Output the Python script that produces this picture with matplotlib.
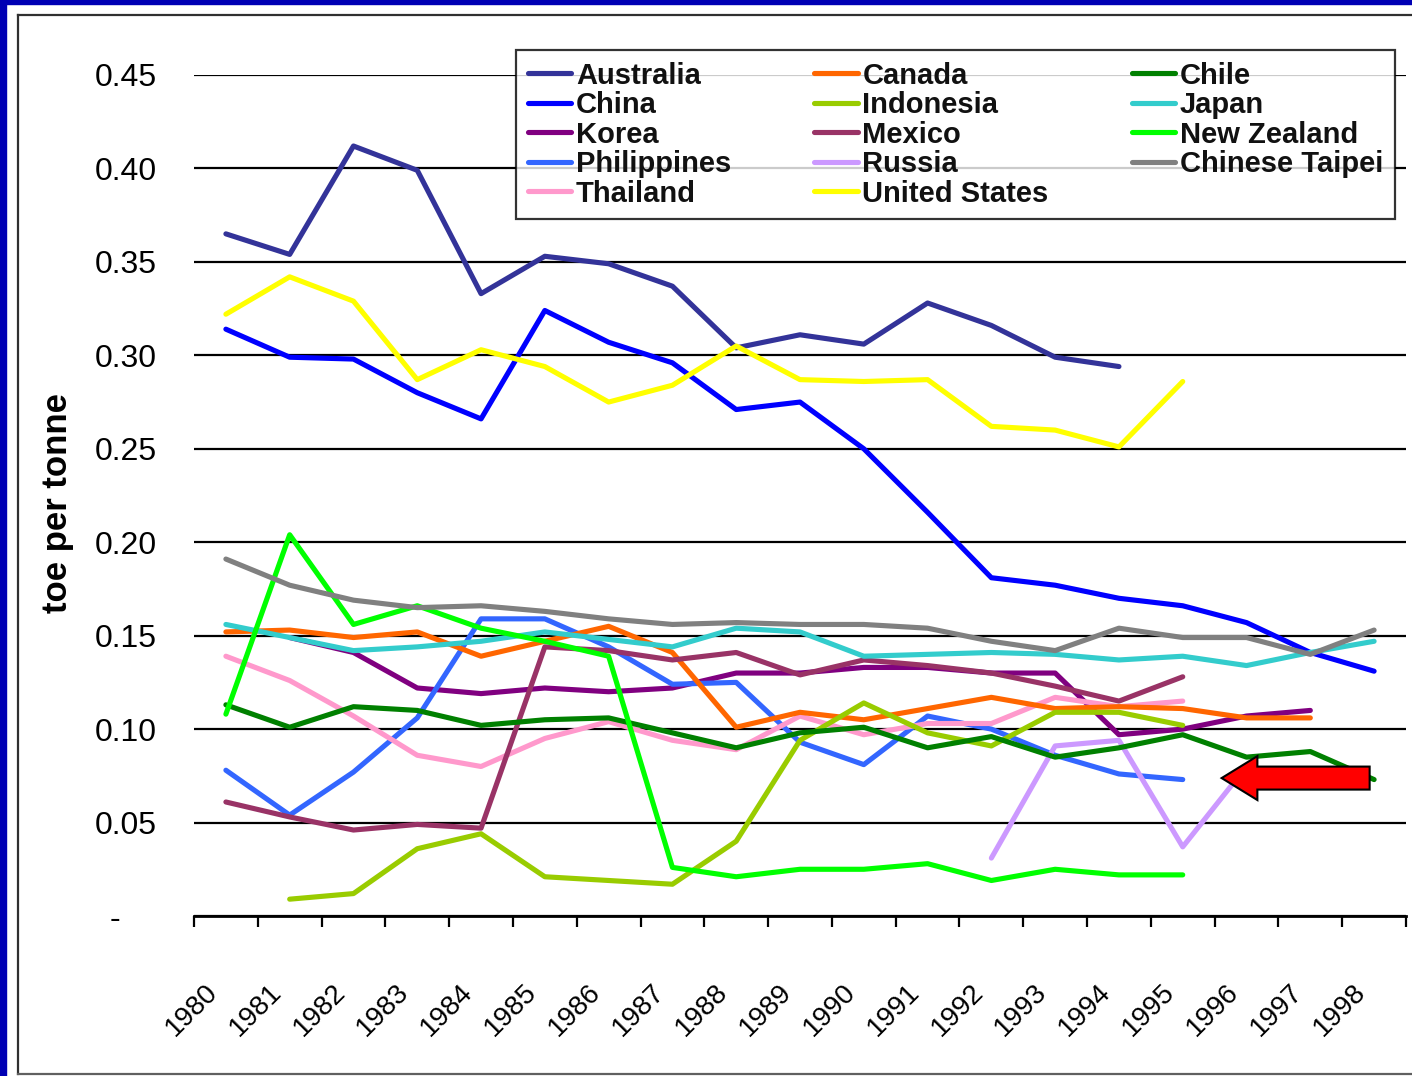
import numpy as np
import matplotlib
matplotlib.use("Agg")
import matplotlib.pyplot as plt
from matplotlib.patches import Rectangle, FancyArrow
from matplotlib.lines import Line2D
from matplotlib.transforms import ScaledTranslation

nan = np.nan
years = [str(y) for y in range(1980, 1999)]

australia = [0.365, 0.354, 0.412, 0.399, 0.333, 0.353, 0.349, 0.337, 0.304, 0.311, 0.306, 0.328, 0.316, 0.299, 0.294, nan, nan, nan, nan]
canada = [0.152, 0.153, 0.149, 0.152, 0.139, 0.147, 0.155, 0.141, 0.101, 0.109, 0.105, 0.111, 0.117, 0.111, 0.112, 0.111, 0.106, 0.106, nan]
chile = [0.113, 0.101, 0.112, 0.110, 0.102, 0.105, 0.106, 0.098, 0.090, 0.098, 0.101, 0.090, 0.096, 0.085, 0.090, 0.097, 0.085, 0.088, 0.073]
china = [0.314, 0.299, 0.298, 0.280, 0.266, 0.324, 0.307, 0.296, 0.271, 0.275, 0.250, 0.216, 0.181, 0.177, 0.170, 0.166, 0.157, 0.141, 0.131]
indonesia = [nan, 0.009, 0.012, 0.036, 0.044, 0.021, 0.019, 0.017, 0.040, 0.094, 0.114, 0.098, 0.091, 0.109, 0.109, 0.102, nan, nan, nan]
japan = [0.156, 0.149, 0.142, 0.144, 0.147, 0.152, 0.148, 0.144, 0.154, 0.152, 0.139, 0.140, 0.141, 0.140, 0.137, 0.139, 0.134, 0.141, 0.147]
korea = [nan, 0.149, 0.141, 0.122, 0.119, 0.122, 0.120, 0.122, 0.130, 0.130, 0.133, 0.133, 0.130, 0.130, 0.097, 0.100, 0.107, 0.110, nan]
mexico = [0.061, 0.053, 0.046, 0.049, 0.047, 0.144, 0.142, 0.137, 0.141, 0.129, 0.137, 0.134, 0.130, 0.123, 0.115, 0.128, nan, nan, nan]
new_zealand = [0.108, 0.204, 0.156, 0.166, 0.154, 0.147, 0.139, 0.026, 0.021, 0.025, 0.025, 0.028, 0.019, 0.025, 0.022, 0.022, nan, nan, nan]
philippines = [0.078, 0.054, 0.077, 0.106, 0.159, 0.159, 0.144, 0.124, 0.125, 0.093, 0.081, 0.107, 0.100, 0.086, 0.076, 0.073, nan, nan, nan]
russia = [nan, nan, nan, nan, nan, nan, nan, nan, nan, nan, nan, nan, 0.031, 0.091, 0.094, 0.037, 0.080, nan, nan]
chinese_taipei = [0.191, 0.177, 0.169, 0.165, 0.166, 0.163, 0.159, 0.156, 0.157, 0.156, 0.156, 0.154, 0.147, 0.142, 0.154, 0.149, 0.149, 0.140, 0.153]
thailand = [0.139, 0.126, 0.107, 0.086, 0.080, 0.095, 0.104, 0.094, 0.089, 0.107, 0.097, 0.103, 0.103, 0.117, 0.112, 0.115, nan, nan, nan]
united_states = [0.322, 0.342, 0.329, 0.287, 0.303, 0.294, 0.275, 0.284, 0.305, 0.287, 0.286, 0.287, 0.262, 0.260, 0.251, 0.286, nan, nan, nan]

series_names = ["Australia", "China", "Korea", "Philippines", "Thailand",
                "Canada", "Indonesia", "Mexico", "Russia", "United States",
                "Chile", "Japan", "New Zealand", "Chinese Taipei"]
series_values = [australia, china, korea, philippines, thailand,
                 canada, indonesia, mexico, russia, united_states,
                 chile, japan, new_zealand, chinese_taipei]
series_colors = ["#333399", "#0000FF", "#800080", "#3366FF", "#FF99CC",
                 "#FF6600", "#99CC00", "#993366", "#CC99FF", "#FFFF00",
                 "#008000", "#33CCCC", "#00FF00", "#808080"]

y_ticks = [0, 0.05, 0.10, 0.15, 0.20, 0.25, 0.30, 0.35, 0.40, 0.45]
y_tick_labels = ["-    ", "0.05", "0.10", "0.15", "0.20", "0.25", "0.30", "0.35", "0.40", "0.45"]

plt.rcParams['font.family'] = ['Liberation Sans', 'DejaVu Sans']

W, H = 1412, 1076
fig = plt.figure(figsize=(W / 100, H / 100), dpi=100)
fig.patch.set_facecolor("white")

# outer blue border + inner frame
fig.patches.append(Rectangle((0, 0), 6 / W, 1, transform=fig.transFigure, color="#0000B4", zorder=0))
fig.patches.append(Rectangle((0, 1 - 4 / H), 1, 4 / H, transform=fig.transFigure, color="#0000B4", zorder=0))
fig.lines.append(Line2D([18 / W, 18 / W], [1 - 15 / H, 1 - 1074 / H], transform=fig.transFigure, color="#303030", lw=1.6))
fig.lines.append(Line2D([18 / W, 1.0], [1 - 15 / H, 1 - 15 / H], transform=fig.transFigure, color="#303030", lw=1.6))
fig.lines.append(Line2D([18 / W, 1.0], [1 - 1074 / H, 1 - 1074 / H], transform=fig.transFigure, color="#606060", lw=1.6))

left, right = 194 / W, 1406 / W
bottom, top = (H - 916) / H, (H - 75) / H
ax = fig.add_axes([left, bottom, right - left, top - bottom])
ax.set_facecolor("none")

x = np.arange(len(years))
for name, vals, col in zip(series_names, series_values, series_colors):
    ax.plot(x, vals, color=col, lw=3.7, label=name, solid_capstyle="round", solid_joinstyle="round")

ax.set_xlim(-0.5, len(years) - 0.5)
ax.set_ylim(0, 0.45)
ax.set_yticks(y_ticks)
ax.set_yticklabels(y_tick_labels, fontsize=23)
ax.tick_params(axis="y", length=0, pad=27)
ax.yaxis.grid(True, color="black", lw=1.6)
ax.set_axisbelow(True)

ax.set_xticks(np.arange(len(years) + 1) - 0.5)
ax.set_xticklabels([])
ax.tick_params(axis="x", which="major", length=8, width=1.6, direction="out", color="black")
ax.set_xticks(x, minor=True)
ax.set_xticklabels(years, minor=True, fontsize=20, rotation=45, ha="right", va="center", rotation_mode="anchor")
ax.tick_params(axis="x", which="minor", length=0, pad=52)
for lab in ax.get_xticklabels(minor=True):
    lab.set_transform(lab.get_transform() + ScaledTranslation(-12 / 100, 0, fig.dpi_scale_trans))

for s in ["left", "top", "right"]:
    ax.spines[s].set_visible(False)
ax.spines["bottom"].set_linewidth(2)
ax.spines["bottom"].set_color("black")

fig.text(58 / W, 1 - 503 / H, "toe per tonne", rotation=90, fontsize=25, fontweight="bold", ha="center", va="center")

# red annotation arrow
arrow = FancyArrow(17.93, 0.0738, -2.32, 0, width=0.0123, head_width=0.0235, head_length=0.56,
                   length_includes_head=True, facecolor="#FF0000", edgecolor="black", lw=1.5, zorder=5)
ax.add_patch(arrow)

leg = ax.legend(loc="upper left", bbox_to_anchor=(516 / W, 1 - 50 / H), bbox_transform=fig.transFigure,
                ncol=3, prop={"weight": "bold", "size": 21}, frameon=True, fancybox=False,
                edgecolor="black", borderaxespad=0, handlelength=1.5, handletextpad=0.15,
                labelspacing=0.05, columnspacing=2.85, borderpad=0.4)
leg.get_frame().set_linewidth(1.6)
for t in leg.get_texts():
    t.set_color("#111111")

fig.savefig("out.png", dpi=100, facecolor="white")
